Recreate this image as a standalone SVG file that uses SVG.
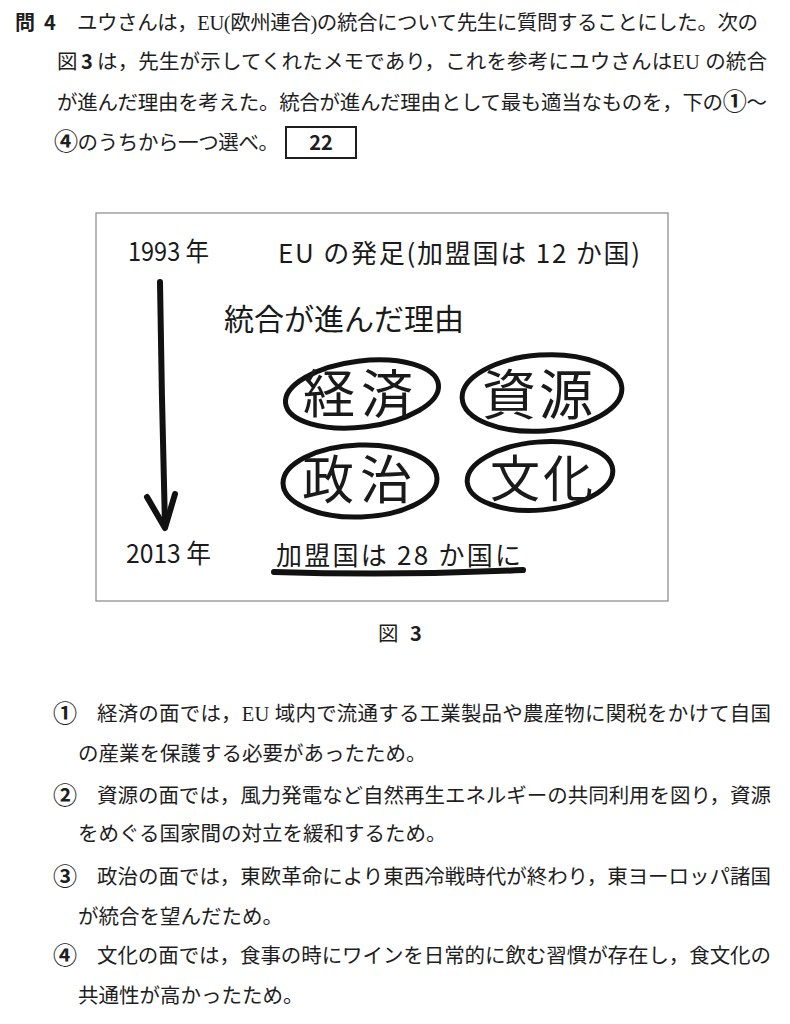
<svg xmlns="http://www.w3.org/2000/svg" width="790" height="1024" viewBox="0 0 790 1024">
<style>
.body{font-family:"Liberation Serif","Noto Sans CJK JP",serif;font-size:20.5px;fill:#1e1e1e}
.goth{font-family:"Noto Sans CJK JP","Liberation Sans",sans-serif;font-weight:bold;font-size:20px;fill:#1e1e1e}
.circ{font-family:"Noto Sans CJK JP","DejaVu Sans",sans-serif;font-weight:bold;font-size:24px;fill:#1e1e1e}
.hand{font-family:"Noto Sans CJK JP","Liberation Sans",sans-serif;fill:#1a1a1a}
.ring{fill:none;stroke:#111;stroke-width:5;stroke-linecap:round}
.pen{fill:none;stroke:#111;stroke-width:6;stroke-linecap:round;stroke-linejoin:round}
</style>
<rect width="790" height="1024" fill="#fff"/>

<g id="question">
<text class="goth" x="15" y="30">問</text>
<text class="goth" x="44" y="30">4</text>
<text class="body" x="77" y="30" textLength="681" lengthAdjust="spacing">ユウさんは，EU(欧州連合)の統合について先生に質問することにした。次の</text>
<text class="body" x="57" y="69">図</text>
<text class="goth" x="81" y="69">3</text>
<text class="body" x="97" y="69" textLength="670" lengthAdjust="spacing">は，先生が示してくれたメモであり，これを参考にユウさんはEU の統合</text>
<text class="body" x="57" y="110" textLength="710" lengthAdjust="spacing">が進んだ理由を考えた。統合が進んだ理由として最も適当なものを，下の<tspan class="circ">①</tspan>～</text>
<text class="body" x="54" y="150" textLength="225" lengthAdjust="spacing"><tspan class="circ">④</tspan>のうちから一つ選べ。</text>
</g>
<g id="answer-box">
<rect x="286" y="127" width="70" height="31" fill="none" stroke="#1e1e1e" stroke-width="2"/>
<text class="goth" x="321" y="150" text-anchor="middle">22</text>
</g>

<g id="memo">
<rect x="96" y="213" width="572" height="388" fill="#fff" stroke="#888" stroke-width="1.2"/>
<text class="hand" x="128" y="261" font-size="26" textLength="81" lengthAdjust="spacingAndGlyphs">1993 年</text>
<text class="hand" x="278" y="263" font-size="26" textLength="362" lengthAdjust="spacing">EU の発足(加盟国は 12 か国)</text>
<text class="hand" x="224" y="330" font-size="30" textLength="240" lengthAdjust="spacing">統合が進んだ理由</text>
<text class="hand" x="126" y="563" font-size="26" textLength="85" lengthAdjust="spacingAndGlyphs">2013 年</text>
<g id="node-members">
<text class="hand" x="276" y="565" font-size="26" textLength="245" lengthAdjust="spacing">加盟国は 28 か国に</text>
<path class="pen" d="M274,572 Q400,576 523,570"/>
</g>
</g>

<g id="node-keizai">
<ellipse class="ring" cx="362" cy="394" rx="77" ry="33" transform="rotate(-7 362 394)"/>
<text class="hand" x="303" y="413" font-size="52" textLength="110" lengthAdjust="spacing">経済</text>
</g>
<g id="node-shigen">
<ellipse class="ring" cx="542" cy="393" rx="80" ry="38" transform="rotate(-4 542 393)"/>
<text class="hand" x="482" y="415" font-size="54" textLength="111" lengthAdjust="spacing">資源</text>
</g>
<g id="node-seiji">
<ellipse class="ring" cx="360" cy="481" rx="77" ry="36" transform="rotate(-2 360 481)"/>
<text class="hand" x="302" y="499" font-size="52" textLength="110" lengthAdjust="spacing">政治</text>
</g>
<g id="node-bunka">
<ellipse class="ring" cx="540" cy="476" rx="73" ry="34" transform="rotate(-5 540 476)"/>
<text class="hand" x="490" y="497" font-size="50" textLength="103" lengthAdjust="spacing">文化</text>
</g>

<g id="connectors">
<path class="pen" d="M160,282 C161,360 163,450 165,526"/>
<polyline class="pen" points="147,497 165,528 175,494"/>
</g>

<g id="caption">
<text class="body" x="378" y="641" font-size="20">図</text>
<text class="goth" x="410" y="641">3</text>
</g>

<g id="options">
<text class="circ" x="53" y="722">①</text>
<text class="body" x="97" y="721" textLength="674" lengthAdjust="spacing">経済の面では，EU 域内で流通する工業製品や農産物に関税をかけて自国</text>
<text class="body" x="78" y="761">の産業を保護する必要があったため。</text>
<text class="circ" x="53" y="804">②</text>
<text class="body" x="97" y="803" textLength="674" lengthAdjust="spacing">資源の面では，風力発電など自然再生エネルギーの共同利用を図り，資源</text>
<text class="body" x="78" y="841">をめぐる国家間の対立を緩和するため。</text>
<text class="circ" x="53" y="885">③</text>
<text class="body" x="97" y="884" textLength="674" lengthAdjust="spacing">政治の面では，東欧革命により東西冷戦時代が終わり，東ヨーロッパ諸国</text>
<text class="body" x="78" y="924">が統合を望んだため。</text>
<text class="circ" x="53" y="964">④</text>
<text class="body" x="97" y="963" textLength="674" lengthAdjust="spacing">文化の面では，食事の時にワインを日常的に飲む習慣が存在し，食文化の</text>
<text class="body" x="78" y="1003">共通性が高かったため。</text>
</g>
</svg>
